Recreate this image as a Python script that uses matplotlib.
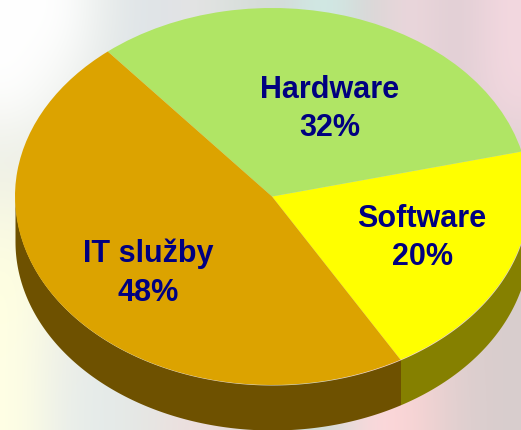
#coding: utf-8

import numpy as np
import matplotlib
matplotlib.use('Agg')
import matplotlib.pyplot as plt

labels = ['Software', 'Hardware', 'IT služby']
values = [20, 32, 48]
# the 3D view of the original stretches the slices a bit, these are the shares as drawn
drawn_shares = [20.5, 32.2, 47.3]
top_colors = ['#FFFF00', '#B0E565', '#DCA300']
side_colors = ['#858000', '#6E5100', '#6E5100']

# hand read colours of the blurred photo behind the pie
bg_rows = [
	['#FFFFFF', '#FFFFFF', '#E8ECEA', '#DDE3E8', '#E6E4E4', '#D8E0DC', '#D5D8D6', '#CDF0EA', '#D8D4D4', '#F0D8DE', '#DCCDD2', '#F4D8E0'],
	['#FFFFFF', '#F2F4F0', '#E2E7E6', '#DDE3E8', '#E6E4E4', '#D8E0DC', '#D5D8D6', '#D8E8E4', '#D8D4D4', '#F0D8DE', '#DCCDD2', '#F4D8E0'],
	['#ECEEE6', '#E6EAE6', '#E0E6E8', '#DDE3E8', '#E6E4E4', '#D8E0DC', '#D5D8D6', '#D8D8D8', '#D8D4D4', '#EAD6DA', '#DCCDD2', '#E0D0D4'],
	['#F8F8E4', '#F0F0E4', '#E4E8E6', '#E0E4E4', '#E6E4E4', '#D8E0DC', '#D5D8D6', '#D8D8D8', '#D8D4D4', '#E8D6D8', '#DCCDD2', '#D8CCD0'],
	['#FFFFE0', '#F2F2E4', '#E8EAE6', '#E4E6E6', '#E6E4E4', '#D8E0DC', '#D5D8D6', '#D8D8D8', '#D8D4D4', '#E8D6D8', '#DCD0D0', '#D8CECE'],
	['#FFFFE4', '#ECEEE8', '#E6EAE8', '#E4E8E8', '#E8E4E4', '#E0E0DC', '#D5D8D6', '#D8D8D8', '#F0D8D8', '#F8D4D4', '#E0CFCF', '#D8CDCD'],
	['#FFFFE4', '#EAEEEA', '#E4EBEA', '#E6E6E2', '#F0DDDD', '#E4DCDC', '#D2DED8', '#CCDED6', '#FFD9DE', '#FAD4D4', '#E0D0D0', '#D8CDCD'],
]

label_pos = [(422, 238), (330, 109), (148, 273)]


def generate_plot(output):
	fig = plt.figure(figsize=(5.21, 4.30), dpi=100)

	bg = fig.add_axes([0, 0, 1, 1])
	rgb = np.array([[matplotlib.colors.to_rgb(c) for c in row] for row in bg_rows])
	bg.imshow(rgb, aspect='auto', interpolation='bicubic', extent=(0, 521, 430, 0))
	bg.axis('off')

	ax = fig.add_axes([0, 0, 1, 1])
	ax.patch.set_alpha(0)

	cx, cy, rx, ry = 272.0, 196.5, 257.0, 188.5
	depth = 45.0 / ry
	start = -60.0

	ax.pie(drawn_shares, colors=top_colors, startangle=start, counterclock=True, radius=1,
		wedgeprops={'linewidth': 0, 'zorder': 3})

	# side wall, only the front half of every slice can be seen
	edges = start + np.cumsum([0] + drawn_shares) * 3.6
	for i in range(len(drawn_shares)):
		a = edges[i]
		b = edges[i + 1]
		for lo, hi in [(a, b), (a + 360, b + 360)]:
			lo = max(lo, 180)
			hi = min(hi, 360)
			if hi <= lo:
				continue
			t = np.radians(np.linspace(lo, hi, 200))
			ax.fill_between(np.cos(t), np.sin(t) - depth, np.sin(t), color=side_colors[i], lw=0, zorder=2)

	ax.set_aspect('auto')
	ax.set_xlim((0 - cx) / rx, (521 - cx) / rx)
	ax.set_ylim((cy - 430) / ry, cy / ry)
	ax.axis('off')

	for i in range(len(labels)):
		x = (label_pos[i][0] - cx) / rx
		y = (cy - label_pos[i][1]) / ry
		ax.text(x, y, '%s\n%d%%' % (labels[i], values[i]), family='Liberation Sans', weight='bold',
			fontsize=22, color='#000080', ha='center', va='center', linespacing=1.38, zorder=5)

	fig.savefig(output, dpi=100)


if __name__ == "__main__":
	generate_plot('out.png')
